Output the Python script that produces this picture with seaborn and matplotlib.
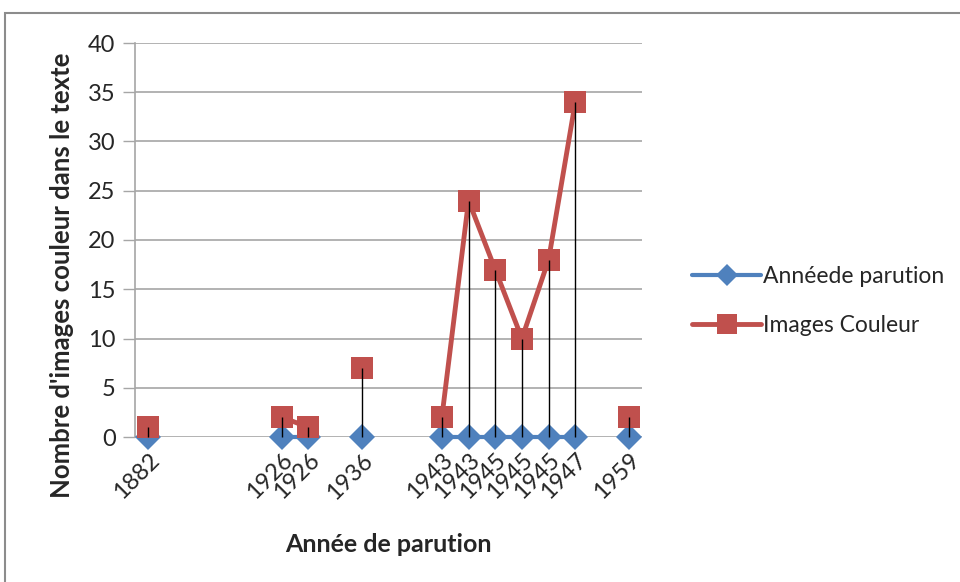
import numpy as np
import pandas as pd
import matplotlib
matplotlib.use("Agg")
import matplotlib.pyplot as plt
import seaborn as sns
from matplotlib.lines import Line2D
from matplotlib.patches import Rectangle

# === DATA (one row per spreadsheet row; blank rows have no label) ===
years = ["1882", "", "", "", "", "1926", "1926", "", "1936", "", "",
         "1943", "1943", "1945", "1945", "1945", "1947", "", "1959"]
annee_parution = [0, None, None, None, None, 0, 0, None, 0, None, None,
                  0, 0, 0, 0, 0, 0, None, 0]
images_couleur = [1, None, None, None, None, 2, 1, None, 7, None, None,
                  2, 24, 17, 10, 18, 34, None, 2]

BLUE = "#4F81BD"
RED = "#C0504D"
GRID = "#A6A6A6"

df = pd.DataFrame({
    "slot": range(len(years)),
    "year": years,
    "Annéede parution": np.array(annee_parution, dtype=float),
    "Images Couleur": np.array(images_couleur, dtype=float),
})

sns.set_style("white")
plt.rcParams["font.family"] = ["Lato", "DejaVu Sans"]

fig = plt.figure(figsize=(9.6, 5.82), dpi=100)
ax = fig.add_axes([135 / 960, 1 - 437 / 582, 507 / 960, 394 / 582])

# outer chart frame (left + top only visible)
fig.patches.append(Rectangle((5 / 960, -0.1), 1.2, (582 - 13) / 582 + 0.1,
                             transform=fig.transFigure, fill=False,
                             edgecolor="#8C8C8C", linewidth=1.5))

# gridlines
for v in range(0, 41, 5):
    ax.axhline(v, color=GRID, linewidth=1.2, zorder=0)


def draw_series(col, color, marker, ms, lw, z):
    # empty rows break the line (Excel gaps) -> one seaborn unit per run
    d = df.assign(seg=df[col].isna().cumsum()).dropna(subset=[col])
    sns.lineplot(data=d, x="slot", y=col, units="seg", estimator=None,
                 sort=False, color=color, linewidth=lw, marker=marker,
                 markersize=ms, markeredgewidth=0, zorder=z, clip_on=False,
                 legend=False, ax=ax)


draw_series("Annéede parution", BLUE, "D", 13, 3, 3)
draw_series("Images Couleur", RED, "s", 16, 3.5, 4)

# drop lines
has = df["Images Couleur"].notna()
ax.vlines(df.loc[has, "slot"], 0, df.loc[has, "Images Couleur"],
          color="black", linewidth=1, zorder=5, clip_on=False)

ax.set_xlim(-0.5, len(years) - 0.5)
ax.set_ylim(0, 40)
ax.set_yticks(range(0, 41, 5))
ax.set_xticks([i for i, y in enumerate(years) if y])
ax.set_xticklabels([y for y in years if y], rotation=45, ha="right",
                   rotation_mode="anchor", fontsize=17)
ax.tick_params(axis="y", labelsize=17, length=9, width=1, color=GRID,
               left=True, pad=5)
ax.tick_params(axis="x", length=0, pad=9)
for s in ["top", "right", "bottom"]:
    ax.spines[s].set_visible(False)
ax.spines["left"].set_color(GRID)
ax.spines["left"].set_linewidth(1.2)
ax.set_xlabel("")
ax.set_ylabel("")
ax.set_facecolor("none")

fig.text(62 / 960, 1 - 275 / 582, "Nombre d'images couleur dans le texte",
         rotation=90, ha="center", va="center", fontsize=18.5, fontweight="bold")
fig.text(388 / 960, 1 - 545 / 582, "Année de parution",
         ha="center", va="center", fontsize=18, fontweight="bold")

handles = [
    Line2D([], [], color=BLUE, linewidth=3, marker="D", markersize=11,
           markeredgewidth=0),
    Line2D([], [], color=RED, linewidth=3.5, marker="s", markersize=14,
           markeredgewidth=0),
]
fig.legend(handles, ["Annéede parution", "Images Couleur"],
           loc="center left", bbox_to_anchor=(683 / 960, 1 - 301 / 582),
           frameon=False, fontsize=16.5, handlelength=3, handletextpad=0.1,
           labelspacing=1.2, borderaxespad=0)

fig.savefig("out.png", dpi=100)
